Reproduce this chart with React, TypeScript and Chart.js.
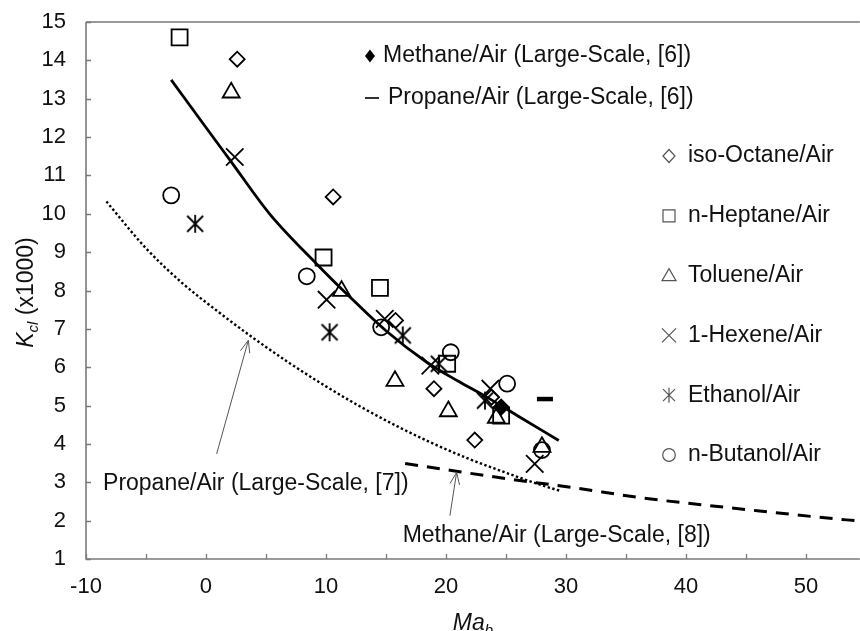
import React, { useEffect, useRef } from "react";
import { Chart, registerables } from "chart.js";

Chart.register(...registerables);

// ---------- Data ----------
const xMin = -10;
const xMax = 54.5;
const yMin = 1;
const yMax = 15;
const xMinorTicks = [-10, -5, 0, 5, 10, 15, 20, 25, 30, 35, 40, 45, 50];
const yTickValues = [1, 2, 3, 4, 5, 6, 7, 8, 9, 10, 11, 12, 13, 14, 15];

const octaneX = [2.6, 10.6, 15.8, 19.0, 23.8, 22.4];
const octaneY = [14.03, 10.44, 7.22, 5.44, 5.22, 4.1];

const heptaneX = [-2.2, 9.8, 14.5, 20.1, 24.6];
const heptaneY = [14.6, 8.86, 8.07, 6.09, 4.74];

const tolueneX = [2.1, 11.3, 15.75, 20.2, 24.2, 28.0];
const tolueneY = [13.16, 7.99, 5.64, 4.85, 4.68, 3.92];

const hexeneX = [2.4, 10.05, 14.9, 18.7, 23.7, 27.4];
const hexeneY = [11.48, 7.76, 7.26, 6.04, 5.44, 3.48];

const ethanolX = [-0.9, 10.3, 16.4, 19.4, 23.25];
const ethanolY = [9.74, 6.91, 6.83, 6.09, 5.13];

const butanolX = [-2.9, 8.4, 14.6, 20.4, 25.1, 28.0];
const butanolY = [10.48, 8.37, 7.04, 6.39, 5.57, 3.84];

const methane6X = [24.6];
const methane6Y = [4.96];

const propane6X = [28.25];
const propane6Y = [5.17];

// solid fit curve
const fitX = [-2.9, 0, 2, 5.3, 9.2, 12, 15, 18.4, 21, 23.4, 26, 29.4];
const fitY = [13.49, 12.25, 11.4, 10.0, 8.7, 7.83, 6.95, 6.13, 5.64, 5.22, 4.73, 4.09];

// dotted: Propane/Air (Large-Scale, [7])
const prop7X = [-8.3, -5, -2, 1, 4, 7, 10, 13, 16, 19, 22, 25, 28, 29.5];
const prop7Y = [10.32, 9.1, 8.2, 7.45, 6.75, 6.1, 5.5, 4.95, 4.45, 4.0, 3.6, 3.25, 2.92, 2.78];

// dashed: Methane/Air (Large-Scale, [8])
const meth8X = [16.6, 20.6, 25.6, 30.6, 36.2, 45.3, 53.4, 55];
const meth8Y = [3.49, 3.3, 3.07, 2.86, 2.6, 2.28, 2.02, 1.98];

// annotations (data coordinates)
const annProp7Text = "Propane/Air (Large-Scale, [7])";
const annProp7Pos = [-8.58, 2.96];
const annProp7Arrow = [0.89, 3.74, 3.53, 6.7];
const annMeth8Text = "Methane/Air (Large-Scale, [8])";
const annMeth8Pos = [16.39, 1.61];
const annMeth8Arrow = [20.33, 2.13, 20.89, 3.26];

const topLegendLabels = ["Methane/Air (Large-Scale, [6])", "Propane/Air (Large-Scale, [6])"];
const sideLegendLabels = [
  "iso-Octane/Air",
  "n-Heptane/Air",
  "Toluene/Air",
  "1-Hexene/Air",
  "Ethanol/Air",
  "n-Butanol/Air",
];
const sideLegendShapes = ["diamond", "square", "triangle", "cross", "ethanol", "circle"];

// ---------- Styling ----------
const FONT = '"Liberation Sans", Arial, sans-serif';
const AXIS = "#7a7a7a";
const TEXT = "#111";
const CANVAS_W = 874;
const VIEW_W = 860;
const VIEW_H = 631;

const pts = (xs: number[], ys: number[]) => xs.map((x, i) => ({ x, y: ys[i] }));

function drawShape(ctx: CanvasRenderingContext2D, shape: string, x: number, y: number) {
  ctx.beginPath();
  switch (shape) {
    case "diamond":
      ctx.moveTo(x, y - 6.5);
      ctx.lineTo(x + 6, y);
      ctx.lineTo(x, y + 6.5);
      ctx.lineTo(x - 6, y);
      ctx.closePath();
      break;
    case "square":
      ctx.rect(x - 6, y - 6, 12, 12);
      break;
    case "triangle":
      ctx.moveTo(x, y - 7);
      ctx.lineTo(x + 7, y + 5);
      ctx.lineTo(x - 7, y + 5);
      ctx.closePath();
      break;
    case "cross":
      ctx.moveTo(x - 7, y - 7);
      ctx.lineTo(x + 7, y + 7);
      ctx.moveTo(x + 7, y - 7);
      ctx.lineTo(x - 7, y + 7);
      break;
    case "ethanol":
      ctx.moveTo(x - 6, y - 6);
      ctx.lineTo(x + 6, y + 6);
      ctx.moveTo(x + 6, y - 6);
      ctx.lineTo(x - 6, y + 6);
      ctx.moveTo(x, y - 7.5);
      ctx.lineTo(x, y + 7.5);
      break;
    case "circle":
      ctx.arc(x, y, 6.3, 0, Math.PI * 2);
      break;
  }
  ctx.stroke();
}

function drawArrow(ctx: CanvasRenderingContext2D, x0: number, y0: number, x1: number, y1: number) {
  ctx.beginPath();
  ctx.moveTo(x0, y0);
  ctx.lineTo(x1, y1);
  const ang = Math.atan2(y1 - y0, x1 - x0);
  const len = 13;
  const spread = 0.38;
  ctx.moveTo(x1 - len * Math.cos(ang - spread), y1 - len * Math.sin(ang - spread));
  ctx.lineTo(x1, y1);
  ctx.lineTo(x1 - len * Math.cos(ang + spread), y1 - len * Math.sin(ang + spread));
  ctx.stroke();
}

const overlayPlugin = {
  id: "overlay",
  afterDraw(chart: any) {
    const { ctx, chartArea: a, scales } = chart;
    const xs = scales.x;
    const ys = scales.y;
    ctx.save();

    // axes & top border
    ctx.strokeStyle = AXIS;
    ctx.lineWidth = 1.6;
    ctx.beginPath();
    ctx.moveTo(a.left, a.top);
    ctx.lineTo(a.right, a.top);
    ctx.moveTo(a.left, a.top);
    ctx.lineTo(a.left, a.bottom);
    ctx.lineTo(a.right, a.bottom);
    ctx.stroke();

    // inward ticks
    ctx.lineWidth = 1.3;
    ctx.beginPath();
    xMinorTicks.forEach((v) => {
      const px = Math.round(xs.getPixelForValue(v)) + 0.5;
      ctx.moveTo(px, a.bottom);
      ctx.lineTo(px, a.bottom - 5);
    });
    yTickValues.forEach((v) => {
      const py = Math.round(ys.getPixelForValue(v)) + 0.5;
      ctx.moveTo(a.left, py);
      ctx.lineTo(a.left + 5, py);
    });
    ctx.stroke();

    // axis titles
    ctx.fillStyle = TEXT;
    ctx.textBaseline = "alphabetic";
    // x title: Ma_b
    {
      const main = "italic 23px " + FONT;
      const sub = "italic 15px " + FONT;
      ctx.font = main;
      const w1 = ctx.measureText("Ma").width;
      ctx.font = sub;
      const w2 = ctx.measureText("b").width;
      const cx = (a.left + VIEW_W) / 2;
      const x0 = cx - (w1 + w2) / 2;
      const base = 630;
      ctx.font = main;
      ctx.textAlign = "left";
      ctx.fillText("Ma", x0, base);
      ctx.font = sub;
      ctx.fillText("b", x0 + w1, base + 5);
    }
    // y title: K_cl (x1000)
    {
      ctx.save();
      const cy = (a.top + a.bottom) / 2 + 2;
      ctx.translate(33, cy);
      ctx.rotate(-Math.PI / 2);
      const main = "italic 23px " + FONT;
      const sub = "italic 15px " + FONT;
      const norm = "23px " + FONT;
      ctx.font = main;
      const w1 = ctx.measureText("K").width;
      ctx.font = sub;
      const w2 = ctx.measureText("cl").width;
      ctx.font = norm;
      const w3 = ctx.measureText(" (x1000)").width;
      const x0 = -(w1 + w2 + w3) / 2;
      ctx.textAlign = "left";
      ctx.font = main;
      ctx.fillText("K", x0, 0);
      ctx.font = sub;
      ctx.fillText("cl", x0 + w1, 5);
      ctx.font = norm;
      ctx.fillText(" (x1000)", x0 + w1 + w2, 0);
      ctx.restore();
    }

    // top legend
    ctx.font = "23px " + FONT;
    ctx.textAlign = "left";
    ctx.textBaseline = "middle";
    const tlX = a.left + 284;
    const tlY = [a.top + 34, a.top + 76];
    // filled diamond
    ctx.fillStyle = "#000";
    ctx.beginPath();
    ctx.moveTo(tlX, tlY[0] - 6.5);
    ctx.lineTo(tlX + 5, tlY[0]);
    ctx.lineTo(tlX, tlY[0] + 6.5);
    ctx.lineTo(tlX - 5, tlY[0]);
    ctx.closePath();
    ctx.fill();
    ctx.fillStyle = TEXT;
    ctx.fillText(topLegendLabels[0], tlX + 13, tlY[0]);
    // dash
    ctx.strokeStyle = "#000";
    ctx.lineWidth = 1.6;
    ctx.beginPath();
    ctx.moveTo(tlX - 5, tlY[1]);
    ctx.lineTo(tlX + 9, tlY[1]);
    ctx.stroke();
    ctx.fillText(topLegendLabels[1], tlX + 18, tlY[1]);

    // side legend
    const slX = a.left + 583;
    const slY0 = a.top + 134;
    const slStep = 59.8;
    sideLegendLabels.forEach((lab, i) => {
      const yy = slY0 + i * slStep;
      ctx.strokeStyle = "#555";
      ctx.lineWidth = 1.2;
      drawShape(ctx, sideLegendShapes[i], slX, yy);
      ctx.fillStyle = TEXT;
      ctx.fillText(lab, slX + 19, yy);
    });

    // annotations
    ctx.fillStyle = TEXT;
    ctx.fillText(annProp7Text, xs.getPixelForValue(annProp7Pos[0]), ys.getPixelForValue(annProp7Pos[1]));
    ctx.fillText(annMeth8Text, xs.getPixelForValue(annMeth8Pos[0]), ys.getPixelForValue(annMeth8Pos[1]));
    ctx.strokeStyle = "#555";
    ctx.lineWidth = 1;
    [annProp7Arrow, annMeth8Arrow].forEach((ar) => {
      drawArrow(
        ctx,
        xs.getPixelForValue(ar[0]),
        ys.getPixelForValue(ar[1]),
        xs.getPixelForValue(ar[2]),
        ys.getPixelForValue(ar[3])
      );
    });

    ctx.restore();
  },
};

export default function App() {
  const ref = useRef<HTMLCanvasElement | null>(null);

  useEffect(() => {
    const canvas = ref.current;
    if (!canvas) return;

    // custom ethanol marker: X with a vertical stroke
    const eth = document.createElement("canvas");
    eth.width = 22;
    eth.height = 22;
    const ec = eth.getContext("2d")!;
    ec.strokeStyle = "#000";
    ec.lineWidth = 1.8;
    ec.beginPath();
    ec.moveTo(3, 3);
    ec.lineTo(19, 19);
    ec.moveTo(19, 3);
    ec.lineTo(3, 19);
    ec.moveTo(11, 2);
    ec.lineTo(11, 20);
    ec.stroke();

    const markerBase = {
      type: "scatter" as const,
      showLine: false,
      pointBorderColor: "#000",
      pointBackgroundColor: "rgba(0,0,0,0)",
      pointBorderWidth: 1.8,
    };

    const chart = new Chart(canvas, {
      type: "scatter",
      data: {
        datasets: [
          { ...markerBase, label: "iso-Octane/Air", data: pts(octaneX, octaneY), pointStyle: "rectRot", pointRadius: 7.5 },
          { ...markerBase, label: "n-Heptane/Air", data: pts(heptaneX, heptaneY), pointStyle: "rect", pointRadius: 11.3 },
          { ...markerBase, label: "Toluene/Air", data: pts(tolueneX, tolueneY), pointStyle: "triangle", pointRadius: 9.8 },
          { ...markerBase, label: "1-Hexene/Air", data: pts(hexeneX, hexeneY), pointStyle: "crossRot", pointRadius: 12.3 },
          { ...markerBase, label: "Ethanol/Air", data: pts(ethanolX, ethanolY), pointStyle: eth as any, pointRadius: 10 },
          { ...markerBase, label: "n-Butanol/Air", data: pts(butanolX, butanolY), pointStyle: "circle", pointRadius: 8 },
          {
            ...markerBase,
            label: "Methane/Air (Large-Scale, [6])",
            data: pts(methane6X, methane6Y),
            pointStyle: "rectRot",
            pointRadius: 7.5,
            pointBackgroundColor: "#000",
          },
          {
            ...markerBase,
            label: "Propane/Air (Large-Scale, [6])",
            data: pts(propane6X, propane6Y),
            pointStyle: "line",
            pointRadius: 8,
            pointBorderWidth: 4.5,
          },
          {
            type: "line",
            label: "fit",
            data: pts(fitX, fitY),
            borderColor: "#000",
            borderWidth: 2.8,
            pointRadius: 0,
            cubicInterpolationMode: "monotone",
            fill: false,
          } as any,
          {
            type: "line",
            label: "Propane/Air (Large-Scale, [7])",
            data: pts(prop7X, prop7Y),
            borderColor: "#000",
            borderWidth: 2.4,
            borderDash: [2.4, 2.4],
            pointRadius: 0,
            cubicInterpolationMode: "monotone",
            fill: false,
          } as any,
          {
            type: "line",
            label: "Methane/Air (Large-Scale, [8])",
            data: pts(meth8X, meth8Y),
            borderColor: "#000",
            borderWidth: 3,
            borderDash: [13, 9],
            pointRadius: 0,
            cubicInterpolationMode: "monotone",
            fill: false,
          } as any,
        ],
      },
      options: {
        animation: false,
        responsive: false,
        events: [],
        layout: { padding: { top: 22, left: 0, right: 0, bottom: 0 } },
        plugins: {
          legend: { display: false },
          tooltip: { enabled: false },
        },
        scales: {
          x: {
            type: "linear",
            min: xMin,
            max: xMax,
            grid: { display: false, drawTicks: false },
            border: { display: false },
            ticks: {
              stepSize: 10,
              includeBounds: false,
              maxRotation: 0,
              autoSkip: false,
              color: TEXT,
              padding: 15,
              font: { family: FONT, size: 22 },
            },
            afterFit: (s: any) => {
              s.height = 72;
              s.paddingLeft = 0;
              s.paddingRight = 0;
            },
          },
          y: {
            type: "linear",
            min: yMin,
            max: yMax,
            grid: { display: false, drawTicks: false },
            border: { display: false },
            ticks: {
              stepSize: 1,
              color: TEXT,
              padding: 20,
              font: { family: FONT, size: 22 },
            },
            afterFit: (s: any) => {
              s.width = 86;
              s.paddingTop = 0;
              s.paddingBottom = 0;
            },
          },
        },
      } as any,
      plugins: [overlayPlugin],
    });

    return () => {
      chart.destroy();
    };
  }, []);

  return (
    <div
      style={{
        position: "absolute",
        left: 0,
        top: 0,
        width: VIEW_W,
        height: VIEW_H,
        overflow: "hidden",
        background: "#fff",
      }}
    >
      <canvas
        ref={ref}
        width={CANVAS_W}
        height={VIEW_H}
        style={{ display: "block", width: CANVAS_W, height: VIEW_H }}
      />
    </div>
  );
}
